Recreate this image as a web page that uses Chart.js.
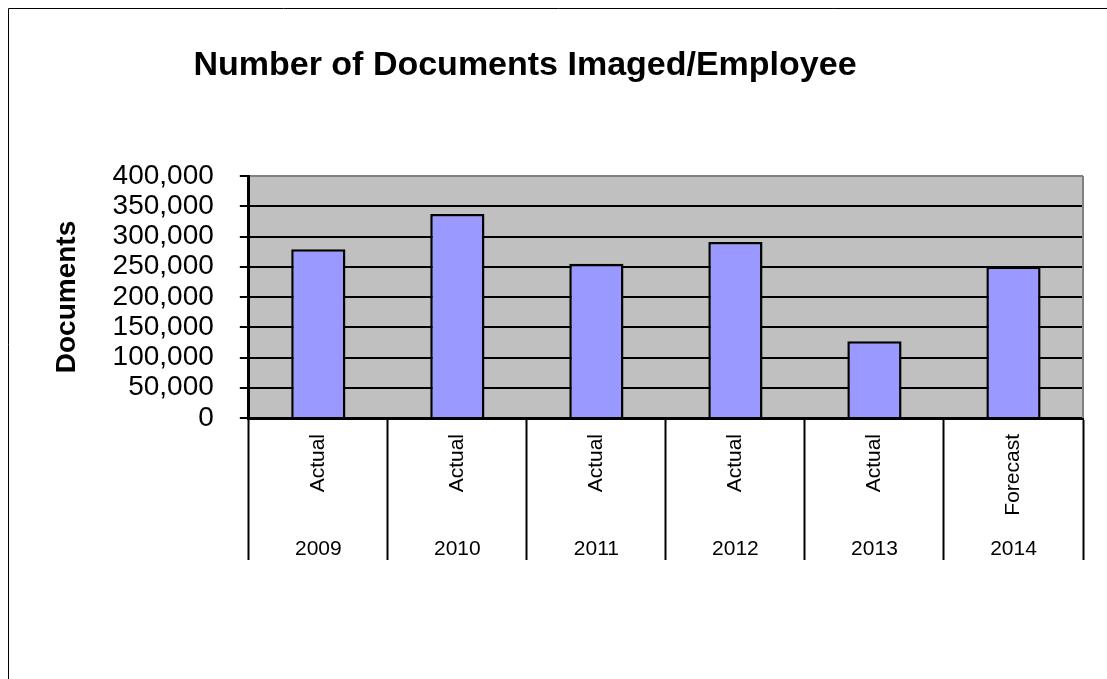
<!DOCTYPE html>
<html>
<head>
<meta charset="utf-8">
<script src="https://cdn.jsdelivr.net/npm/chart.js@4.4.1/dist/chart.umd.min.js"></script>
<style>
  html, body { margin: 0; padding: 0; background: #fff; }
  canvas { display: block; }
</style>
</head>
<body>
<canvas id="docsChart" width="1107" height="679"></canvas>
<script>
var years = ["2009", "2010", "2011", "2012", "2013", "2014"];
var kinds = ["Actual", "Actual", "Actual", "Actual", "Actual", "Forecast"];
var documents = [279000, 337000, 255000, 291000, 127000, 250000];
var yTicks = [0, 50000, 100000, 150000, 200000, 250000, 300000, 350000, 400000];

var FONT = "'Liberation Sans', Arial, sans-serif";

// grey plot background, outer frame and the chart heading
var decorations = {
  id: "decorations",
  beforeDraw: function(chart) {
    var ctx = chart.ctx, a = chart.chartArea;
    ctx.save();
    ctx.fillStyle = "#C0C0C0";
    ctx.fillRect(a.left, a.top, a.right - a.left, a.bottom - a.top);

    ctx.strokeStyle = "#000";
    ctx.lineWidth = 1;
    ctx.beginPath();
    ctx.moveTo(8.5, chart.height + 10);
    ctx.lineTo(8.5, 8.5);
    ctx.lineTo(chart.width + 10, 8.5);
    ctx.stroke();

    ctx.fillStyle = "#000";
    ctx.font = "bold 34px " + FONT;
    ctx.textAlign = "center";
    ctx.textBaseline = "alphabetic";
    ctx.fillText("Number of Documents Imaged/Employee", 525, 75);
    ctx.restore();
  },
  beforeDatasetsDraw: function(chart) {
    var ctx = chart.ctx, a = chart.chartArea;
    ctx.save();
    ctx.strokeStyle = "#808080";
    ctx.lineWidth = 2;
    ctx.beginPath();
    ctx.moveTo(a.right, a.top);
    ctx.lineTo(a.right, a.bottom);
    ctx.stroke();
    ctx.restore();
  },
  // two-level category labels under the x axis
  afterDraw: function(chart) {
    var ctx = chart.ctx, x = chart.scales.x, bottom = chart.chartArea.bottom;
    ctx.save();
    ctx.fillStyle = "#000";
    ctx.font = "21px " + FONT;
    for (var i = 0; i < years.length; i++) {
      var px = x.getPixelForValue(i);
      ctx.save();
      ctx.translate(px, bottom + 16);
      ctx.rotate(-Math.PI / 2);
      ctx.textAlign = "right";
      ctx.textBaseline = "middle";
      ctx.fillText(kinds[i], 0, 0);
      ctx.restore();

      ctx.textAlign = "center";
      ctx.textBaseline = "middle";
      ctx.fillText(years[i], px, 549);
    }
    ctx.restore();
  }
};

var chart = new Chart("docsChart", {
  type: "bar",
  data: {
    labels: years,
    datasets: [{
      label: "Documents",
      data: documents,
      backgroundColor: "#9999FF",
      borderColor: "#000",
      borderWidth: 2.5,
      categoryPercentage: 1,
      barPercentage: 0.39
    }]
  },
  options: {
    responsive: false,
    animation: false,
    devicePixelRatio: 1,
    layout: {
      padding: {left: 50, right: 24, top: 176, bottom: 119}
    },
    plugins: {
      legend: {display: false},
      title: {display: false},
      tooltip: {enabled: false}
    },
    scales: {
      x: {
        offset: true,
        grid: {
          offset: true,
          drawOnChartArea: false,
          drawTicks: true,
          tickLength: 142,
          tickColor: "#000",
          tickWidth: 2
        },
        border: {color: "#000", width: 3},
        ticks: {display: false}
      },
      y: {
        min: 0,
        max: 400000,
        afterBuildTicks: function(scale) {
          scale.ticks = yTicks.map(function(v) { return {value: v}; });
        },
        grid: {
          color: function(c) { return c.tick && c.tick.value === 400000 ? "#808080" : "#000"; },
          lineWidth: 2,
          drawTicks: true,
          tickLength: 9,
          tickColor: "#000",
          tickWidth: 2
        },
        border: {color: "#000", width: 3},
        ticks: {
          autoSkip: false,
          color: "#000",
          padding: 26,
          font: {family: FONT, size: 28},
          callback: function(v) { return Number(v).toLocaleString("en-US"); }
        },
        title: {
          display: true,
          text: "Documents",
          color: "#000",
          font: {family: FONT, size: 28, weight: "bold"},
          padding: {top: 0, bottom: 3}
        }
      }
    }
  },
  plugins: [decorations]
});
</script>
</body>
</html>
